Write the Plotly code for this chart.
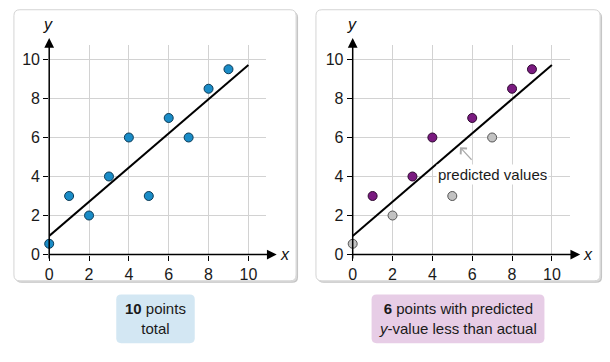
import plotly.graph_objects as go

# ---- data ----
x_vals = [0, 1, 2, 3, 4, 5, 6, 7, 8, 9]
y_vals = [0.55, 3, 2, 4, 6, 3, 7, 6, 8.5, 9.5]
line_x = [0, 10]
line_y = [0.95, 9.72]
above_flags = [False, True, False, True, True, False, True, False, True, True]
tick_vals = [0, 2, 4, 6, 8, 10]
tick_text = ["0", "2", "4", "6", "8", "10"]
left_caption = "<b>10</b> points<br>total"
right_caption = "<b>6</b> points with predicted<br><i>y</i>-value less than actual"
callout_text = "predicted values"

W, H = 610, 362
FONT = "Liberation Sans, Arial, sans-serif"

def px(x):
    return x / W

def py(y):
    return 1 - y / H

def rounded_path(x0, y0, x1, y1, r):
    X = lambda v: f"{px(v):.5f}"
    Y = lambda v: f"{py(v):.5f}"
    return (f"M {X(x0+r)},{Y(y0)} L {X(x1-r)},{Y(y0)} "
            f"Q {X(x1)},{Y(y0)} {X(x1)},{Y(y0+r)} "
            f"L {X(x1)},{Y(y1-r)} Q {X(x1)},{Y(y1)} {X(x1-r)},{Y(y1)} "
            f"L {X(x0+r)},{Y(y1)} Q {X(x0)},{Y(y1)} {X(x0)},{Y(y1-r)} "
            f"L {X(x0)},{Y(y0+r)} Q {X(x0)},{Y(y0)} {X(x0+r)},{Y(y0)} Z")

fig = go.Figure()

panels = [
    dict(ox=45.5, card=(10, 10, 294, 288), xa="x", ya="y"),
    dict(ox=351.0, card=(314, 10, 600, 288), xa="x2", ya="y2"),
]
oy = 261.0
ux = 20.05
uy = 20.0
xmax, ymax = 10.9, 10.75

blue = "#1a8cc7"
purple = "#7a1a80"
gray = "#c2c2c2"

shapes = []
annotations = []

for i, p in enumerate(panels):
    ox = p["ox"]
    x0, y0, x1, y1 = p["card"]
    shapes.append(dict(type="path", path=rounded_path(x0 + 2, y0 + 2, x1 + 2, y1 + 2, 6),
                       xref="paper", yref="paper", fillcolor="#c4c4c4",
                       line=dict(width=0), layer="below"))
    shapes.append(dict(type="path", path=rounded_path(x0 + 1, y0 + 1, x1 + 1, y1 + 1, 6),
                       xref="paper", yref="paper", fillcolor="#dcdcdc",
                       line=dict(width=0), layer="below"))
    shapes.append(dict(type="path", path=rounded_path(x0, y0, x1, y1, 6),
                       xref="paper", yref="paper", fillcolor="white",
                       line=dict(color="#d4d4d4", width=1), layer="below"))

    fig.add_trace(go.Scatter(x=line_x, y=line_y, mode="lines",
                             line=dict(color="black", width=2),
                             xaxis=p["xa"], yaxis=p["ya"], showlegend=False,
                             hoverinfo="skip", cliponaxis=False))
    if i == 0:
        colors = [blue] * len(x_vals)
        lines = ["#0d3b56"] * len(x_vals)
    else:
        colors = [purple if a else gray for a in above_flags]
        lines = ["#2e0a30" if a else "#555555" for a in above_flags]
    fig.add_trace(go.Scatter(x=x_vals, y=y_vals, mode="markers",
                             marker=dict(size=9, color=colors, line=dict(color=lines, width=1)),
                             xaxis=p["xa"], yaxis=p["ya"], showlegend=False,
                             cliponaxis=False))

    annotations.append(dict(x=px(ox + 229), y=py(oy), xref="paper", yref="paper",
                            ax=-229, ay=0, axref="pixel", ayref="pixel", text="",
                            showarrow=True, arrowhead=2, arrowsize=1.3, arrowwidth=1.5,
                            arrowcolor="black", standoff=0, startstandoff=0))
    annotations.append(dict(x=px(ox), y=py(39), xref="paper", yref="paper",
                            ax=0, ay=oy - 39, axref="pixel", ayref="pixel", text="",
                            showarrow=True, arrowhead=2, arrowsize=1.3, arrowwidth=1.5,
                            arrowcolor="black", standoff=0, startstandoff=0))
    annotations.append(dict(x=px(ox + 237), y=py(oy), xref="paper", yref="paper",
                            text="<i>x</i>", showarrow=False, xanchor="center", yanchor="middle",
                            font=dict(family=FONT, size=16, color="#111")))
    annotations.append(dict(x=px(ox - 1), y=py(25), xref="paper", yref="paper",
                            text="<i>y</i>", showarrow=False, xanchor="center", yanchor="middle",
                            font=dict(family=FONT, size=16, color="#111")))

shapes.append(dict(type="path", path=rounded_path(113, 302, 192, 352, 5),
                   xref="paper", yref="paper", fillcolor="#d3e7f3", line=dict(width=0)))
shapes.append(dict(type="path", path=rounded_path(370, 302, 544, 352, 5),
                   xref="paper", yref="paper", fillcolor="#e7cde6", line=dict(width=0)))
annotations.append(dict(x=px(152.5), y=py(327), xref="paper", yref="paper", text=left_caption,
                        showarrow=False, align="center", xanchor="center", yanchor="middle",
                        font=dict(family=FONT, size=15, color="#1a1a1a")))
annotations.append(dict(x=px(457), y=py(327), xref="paper", yref="paper", text=right_caption,
                        showarrow=False, align="center", xanchor="center", yanchor="middle",
                        font=dict(family=FONT, size=15, color="#1a1a1a")))

annotations.append(dict(x=px(491.5), y=py(179), xref="paper", yref="paper", text=callout_text,
                        showarrow=False, xanchor="center", yanchor="middle", bgcolor="white",
                        font=dict(family=FONT, size=15, color="#1a1a1a")))
annotations.append(dict(x=px(459), y=py(151), xref="paper", yref="paper", text="",
                        ax=13, ay=14, axref="pixel", ayref="pixel", showarrow=True,
                        arrowhead=4, arrowsize=1.4, arrowwidth=1.2, arrowcolor="#aaaaaa",
                        standoff=0))

axis_common = dict(range=[0, xmax], tickvals=tick_vals, ticktext=tick_text,
                   showgrid=True, gridcolor="#d2d2d2", gridwidth=1, zeroline=False,
                   showline=False, ticks="outside", ticklen=5, tickwidth=1, tickcolor="black",
                   tickfont=dict(family=FONT, size=16, color="#1a1a1a"), fixedrange=True)

def xdom(ox):
    return [px(ox), px(ox + xmax * ux)]

ydom = [py(oy), py(oy - ymax * uy)]

fig.update_layout(
    width=W, height=H, margin=dict(l=0, r=0, t=0, b=0),
    paper_bgcolor="white", plot_bgcolor="rgba(0,0,0,0)",
    xaxis=dict(axis_common, domain=xdom(panels[0]["ox"]), anchor="y"),
    yaxis=dict(axis_common, range=[0, ymax], domain=ydom, anchor="x"),
    xaxis2=dict(axis_common, domain=xdom(panels[1]["ox"]), anchor="y2"),
    yaxis2=dict(axis_common, range=[0, ymax], domain=ydom, anchor="x2"),
    shapes=shapes, annotations=annotations, showlegend=False,
)

fig.write_html("out.html", config={"displayModeBar": False},
               post_script="document.body.style.margin='0';document.body.style.overflow='hidden';")
